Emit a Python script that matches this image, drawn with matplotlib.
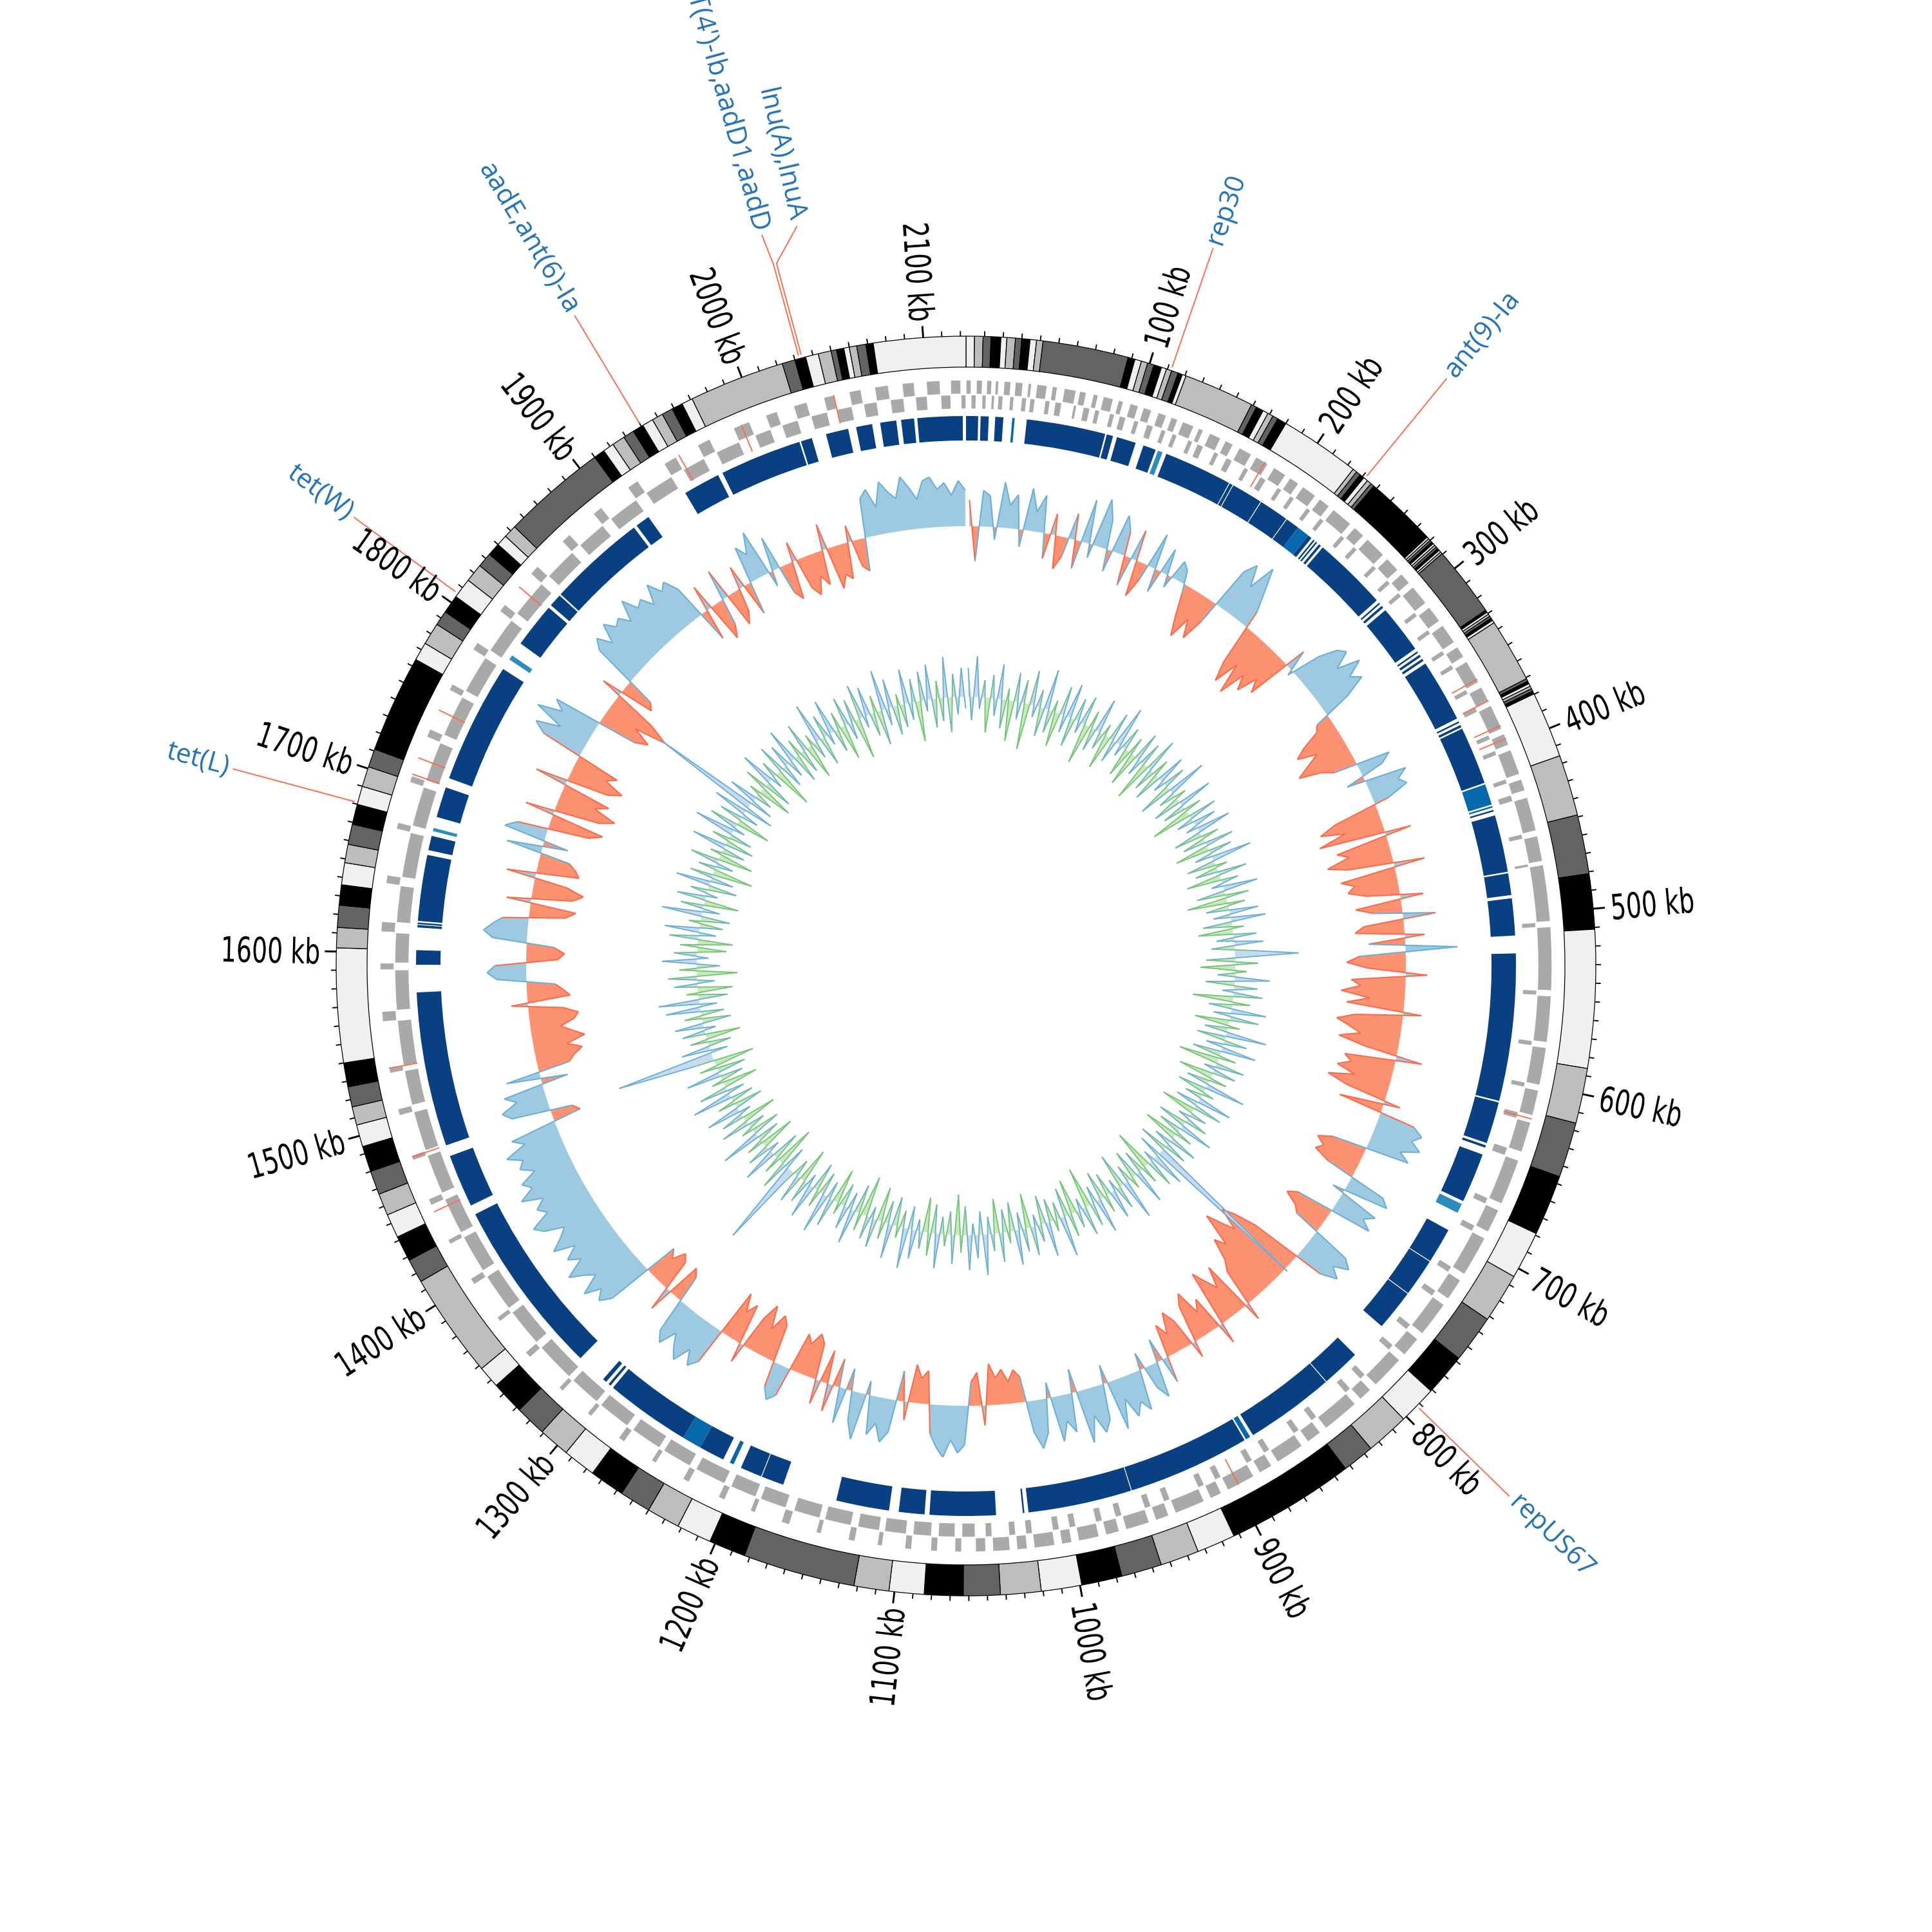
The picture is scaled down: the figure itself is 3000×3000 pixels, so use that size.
import numpy as np
import matplotlib.pyplot as plt
import matplotlib.transforms as mtransforms
from matplotlib.collections import LineCollection
from matplotlib.textpath import TextPath
from matplotlib.patches import PathPatch
from matplotlib.font_manager import FontProperties

GENOME_KB = 2123.0

# contig boundaries in kb (colours cycle light -> grey -> dark -> black)
contig_bounds = [0, 4.6, 9.2, 13.5, 18.8, 22, 26.6, 30, 34.5, 38, 41.5, 88, 91.8, 95.4, 98.9, 102.4,
                 106.7, 109.5, 112.4, 116.1, 118.5, 120.6, 159, 162, 166, 169, 172, 175, 180, 223.7,
                 226, 228.5, 231, 233.5, 236, 238, 277.6, 278.8, 280, 281.2, 282.4, 283.6, 284.8, 286,
                 287.2, 288.4, 289.6, 327.9, 329.2, 330.5, 331.8, 333.1, 334.5, 336, 370.7, 372.2,
                 373.7, 375.2, 376.7, 378.2, 379.8, 415.8, 448.9, 481, 511, 586, 616, 646, 679, 705,
                 732, 758, 781, 802, 825.6, 843, 913, 934, 955, 977, 999, 1021, 1043, 1063, 1084,
                 1103, 1122, 1183, 1203, 1222, 1240, 1257, 1276, 1294, 1311, 1328, 1346, 1358, 1415,
                 1428, 1442, 1455, 1467, 1480, 1494, 1506, 1516, 1527, 1540, 1602, 1613, 1625, 1636,
                 1648, 1658, 1669, 1680, 1690, 1701, 1711, 1764, 1774, 1786, 1794, 1804, 1815, 1825,
                 1833, 1840, 1846, 1853, 1910, 1916, 1922, 1929, 1935, 1941, 1947, 1953, 1959, 1965,
                 1971, 2023, 2030, 2036, 2043, 2050, 2053, 2057, 2060, 2064, 2069, 2073, 2123]
contig_colors = ['#f0f0f0', '#bdbdbd', '#636363', '#000000']

# CDS blocks (kb) on forward / reverse strand
fwd_genes = [(0, 3), (6, 9.5), (12, 15), (17, 19), (22, 26), (28.5, 33), (36, 38), (41, 47), (50, 53),
             (57, 64), (66, 70), (74, 77), (80, 86), (89, 92), (96, 101), (104, 109), (113, 118),
             (121, 125), (128, 135), (138, 141), (145, 152), (155, 160), (164, 172), (175, 183),
             (187, 195), (198, 204), (207, 216), (219, 226), (229, 242), (245, 252), (255, 268),
             (271, 280), (283, 290), (293, 305), (308, 318), (321, 333), (336, 343), (346, 360),
             (363, 372), (375, 390), (393, 400), (403, 418), (421, 428), (432, 452), (455, 470),
             (472, 505), (508, 545), (548, 575), (578, 600), (603, 618), (622, 640), (645, 672),
             (676, 690), (694, 718), (722, 735), (739, 760), (764, 776), (780, 800), (804, 812),
             (816, 838), (842, 851), (855, 872), (876, 884), (888, 905), (909, 916), (920, 938),
             (942, 950), (954, 968), (972, 980), (984, 996), (1000, 1006), (1010, 1022),
             (1026, 1032), (1036, 1046), (1050, 1056), (1064, 1068), (1078, 1082), (1093, 1097),
             (1110, 1113), (1126, 1130), (1146, 1149), (1165, 1170), (1186, 1189), (1205, 1209),
             (1228, 1232), (1250, 1253), (1272, 1276), (1296, 1299), (1318, 1321), (1345, 1349),
             (1372, 1375), (1398, 1402), (1425, 1428), (1450, 1454), (1478, 1481), (1505, 1509),
             (1530, 1533), (1560, 1566), (1590, 1594), (1612, 1618), (1640, 1645), (1672, 1676),
             (1700, 1704), (1728, 1733), (1758, 1762), (1785, 1790), (1812, 1817), (1840, 1846),
             (1866, 1872), (1890, 1896), (1915, 1922), (1940, 1948), (1962, 1970), (1985, 1995),
             (2005, 2012), (2022, 2030), (2040, 2046), (2055, 2062), (2070, 2078), (2086, 2093),
             (2100, 2108), (2114, 2120)]
rev_genes = [(3, 6), (9.5, 12), (15, 17), (19, 22), (26, 28.5), (33, 36), (38, 41), (47, 50), (53, 57),
             (64, 66), (70, 74), (77, 80), (86, 89), (92, 96), (101, 104), (109, 113), (118, 121),
             (125, 128), (135, 138), (141, 145), (152, 155), (160, 164), (172, 175), (183, 187),
             (195, 198), (204, 207), (216, 219), (226, 229), (242, 245), (252, 255), (268, 271),
             (280, 283), (290, 293), (305, 308), (318, 321), (333, 336), (343, 346), (360, 363),
             (372, 375), (390, 393), (400, 403), (418, 421), (428, 432), (452, 455), (470, 472),
             (505, 508), (545, 548), (575, 578), (600, 603), (618, 622), (640, 645), (672, 676),
             (690, 694), (718, 722), (735, 739), (760, 764), (776, 780), (800, 804), (812, 816),
             (838, 842), (851, 855), (872, 876), (884, 888), (905, 909), (916, 920), (938, 942),
             (950, 954), (968, 972), (980, 984), (996, 1000), (1006, 1010), (1022, 1026),
             (1032, 1036), (1046, 1050), (1056, 1064), (1068, 1078), (1082, 1093), (1097, 1110),
             (1113, 1126), (1130, 1146), (1149, 1165), (1170, 1186), (1189, 1205), (1209, 1228),
             (1232, 1250), (1253, 1272), (1276, 1296), (1299, 1318), (1321, 1345), (1349, 1372),
             (1375, 1398), (1402, 1425), (1428, 1450), (1454, 1478), (1481, 1505), (1509, 1530),
             (1533, 1560), (1566, 1590), (1594, 1612), (1618, 1640), (1645, 1672), (1676, 1700),
             (1704, 1728), (1733, 1758), (1762, 1785), (1790, 1812), (1817, 1840), (1846, 1866),
             (1872, 1890), (1896, 1915), (1922, 1940), (1948, 1962), (1970, 1985), (1995, 2005),
             (2012, 2022), (2030, 2040), (2046, 2055), (2062, 2070), (2078, 2086), (2093, 2100),
             (2108, 2114), (2120, 2123)]
rna_sites = [181, 358, 372, 388, 396, 620, 898, 1446, 1480, 1533, 1705, 1715, 1745, 1830, 1950,
             1990, 2046]

# reference alignment hits: (start kb, end kb, identity class 0=high 1=mid 2=low)
hits = [(0, 7.5, 0), (9, 14, 0), (18, 23, 0), (28.5, 30, 1), (37.5, 86.5, 0), (87.5, 91.5, 0),
        (94, 106, 0), (111, 119, 0), (120.5, 123.5, 2), (126, 168.5, 0), (169, 171, 0),
        (171.5, 191, 0), (191.5, 210, 0), (210.5, 219, 0), (219, 227, 1), (227, 229.5, 0),
        (231, 232, 0), (233, 234, 0), (235.5, 237, 0), (238.5, 285, 0), (287, 288, 0),
        (289.5, 291, 0), (293, 323, 0), (325, 326, 0), (327.5, 329, 0), (330.5, 332, 0),
        (334, 373, 0), (375, 376, 0), (377.5, 379, 0), (380, 416, 0), (417, 430, 1), (431, 432, 1),
        (433.5, 434.5, 0), (437, 472.5, 0), (473.5, 487, 0), (489, 512, 0), (523, 614.5, 0),
        (615.5, 641.5, 0), (643, 644.5, 0), (649, 680, 0), (682, 688, 2), (700, 722, 0),
        (722.5, 746, 0), (746.5, 772, 0), (796, 820, 0), (820.5, 876, 0), (878, 881, 1),
        (882, 958, 0), (958.5, 1023, 0), (1025.5, 1026.5, 0), (1043, 1084, 0), (1087, 1103, 0),
        (1109, 1142, 0), (1176, 1190, 0), (1190.5, 1204, 0), (1209, 1211.5, 1), (1216, 1232, 0),
        (1232, 1244, 1), (1244, 1297, 0), (1299, 1300.5, 0), (1302.5, 1305, 0), (1324, 1434, 0),
        (1440, 1473, 0), (1480, 1576, 0), (1593, 1602, 0), (1616, 1617.5, 0), (1618, 1619, 0),
        (1620, 1661, 0), (1664, 1673, 0), (1676, 1678, 2), (1685, 1704, 0), (1710, 1785, 0),
        (1792, 1795, 2), (1804, 1832, 0), (1834, 1842, 0), (1843, 1904, 0), (1906, 1915, 0),
        (1942, 1965, 0), (1968, 2019, 0), (2020, 2027, 0), (2036, 2050, 0), (2055, 2065, 0),
        (2070, 2080, 0), (2083, 2091, 0), (2093, 2121, 0)]
hit_colors = ['#084081', '#0868ac', '#2b8cbe']

# GC content (%) and GC skew in 5 kb windows
gc_window = 5
gc_content = [
    34.6, 30.8, 35.2, 34.9, 32.2, 35.8, 34.4, 35.1, 31.9, 35.6, 34.2, 35.3, 31.4, 34.3, 30.9, 31.8,
    34.6, 31.2, 35.7, 32.1, 36.0, 34.8, 31.6, 35.4, 34.5, 31.1, 34.9, 30.7, 32.0, 35.2, 31.5, 34.6,
    32.2, 34.2, 33.8, 32.4, 30.9, 29.8, 31.2, 30.1, 31.6, 35.6, 36.4, 35.1, 36.8, 35.4, 34.1, 30.4,
    29.2, 30.8, 28.9, 30.6, 29.7, 31.0, 30.2, 34.3, 32.6, 34.8, 35.9, 36.3, 35.2, 36.6, 35.5, 36.1,
    34.7, 32.1, 31.8, 30.6, 29.9, 31.1, 30.2, 29.4, 30.8, 31.5, 35.1, 34.4, 31.8, 35.6, 34.9, 35.3,
    33.9, 30.2, 29.1, 30.6, 28.8, 34.6, 29.7, 30.4, 28.9, 30.1, 34.9, 29.5, 30.3, 29.8, 30.9, 34.4,
    30.1, 31.2, 35.0, 30.5, 29.9, 34.2, 30.7, 36.2, 30.1, 29.3, 30.6, 34.3, 29.6, 30.2, 29.0, 30.8,
    29.4, 34.1, 30.0, 28.9, 29.7, 30.5, 29.2, 30.9, 34.6, 29.8, 30.3, 29.5, 30.7, 29.1, 30.4, 34.0,
    30.2, 35.2, 35.9, 35.4, 36.1, 35.0, 35.7, 30.8, 29.9, 30.5, 30.1, 31.2, 35.3, 35.8, 32.2, 35.5,
    34.9, 35.6, 30.6, 30.0, 30.9, 31.3, 35.4, 36.0, 35.1, 35.8, 34.8, 29.8, 28.4, 27.6, 29.0, 28.1,
    27.2, 29.3, 28.6, 30.0, 30.6, 34.1, 29.7, 31.0, 30.2, 29.4, 34.3, 30.8, 31.5, 29.9, 30.6, 34.0,
    31.2, 30.4, 31.7, 30.9, 34.6, 31.5, 35.2, 34.4, 31.9, 35.5, 34.8, 35.6, 34.3, 36.1, 31.8, 35.2,
    35.9, 34.7, 36.3, 31.5, 35.4, 34.6, 35.8, 32.0, 35.1, 36.0, 34.9, 31.4, 30.9, 31.6, 30.8, 31.3,
    30.4, 34.2, 30.9, 31.5, 35.4, 35.9, 35.1, 36.2, 35.6, 34.8, 30.9, 31.4, 30.6, 34.1, 31.1, 35.0,
    35.7, 34.6, 35.4, 32.1, 35.9, 34.8, 31.6, 35.2, 31.2, 34.7, 30.9, 34.5, 30.7, 30.2, 31.0, 30.5,
    34.8, 35.3, 34.6, 30.6, 30.1, 31.2, 29.8, 30.9, 34.2, 30.4, 31.1, 30.0, 35.3, 35.9, 35.0, 36.1,
    35.5, 34.7, 35.8, 35.2, 31.3, 30.8, 34.5, 31.0, 30.6, 31.4, 30.9, 35.8, 36.5, 35.9, 36.9, 35.6,
    36.2, 37.0, 35.7, 36.4, 35.5, 36.8, 36.0, 35.4, 36.6, 37.1, 35.8, 36.3, 35.6, 36.9, 35.9, 36.4,
    35.3, 36.1, 35.7, 36.6, 35.2, 35.9, 31.2, 31.6, 35.4, 35.9, 34.8, 35.5, 31.3, 35.1, 31.0, 30.6,
    30.0, 30.9, 29.7, 30.4, 31.1, 30.2, 29.9, 30.8, 34.0, 30.3, 30.7, 31.2, 34.8, 35.4, 34.9, 31.0,
    30.6, 31.3, 35.1, 35.7, 35.2, 34.6, 30.7, 30.1, 34.5, 30.4, 29.8, 30.9, 34.8, 30.3, 30.6, 31.1,
    35.2, 31.4, 35.6, 34.9, 30.4, 29.6, 34.8, 30.1, 29.2, 30.7, 29.9, 35.0, 30.3, 29.5, 30.8, 30.2,
    35.6, 36.4, 34.9, 36.8, 35.3, 36.0, 30.5, 29.7, 30.9, 28.9, 30.2, 34.3, 30.8, 31.2, 35.7, 36.3,
    35.4, 36.6, 35.9, 36.2, 35.5, 36.8, 35.8, 36.1, 35.3, 36.5, 35.6, 36.0, 35.1, 31.0, 34.6, 30.5,
    31.3, 34.9, 30.8, 31.5, 34.4, 30.9, 35.3, 34.6, 35.9, 32.0, 35.1, 31.2, 30.6, 34.2, 31.0, 30.4,
    31.5, 30.8, 34.6, 30.3, 31.1, 30.7, 34.0, 31.3, 30.9, 35.4, 35.9, 34.7, 36.2, 35.5, 35.0, 36.3,
    35.6, 34.8, 35.9, 36.1, 35.3, 35.7, 34.9, 35.8, 35.2]
gc_skew = [
    0.05, -0.04, 0.07, -0.02, 0.03, -0.06, 0.04, -0.03, 0.06, -0.05, 0.02, -0.07, 0.05, -0.03, 0.04,
    -0.08, 0.06, -0.02, 0.03, -0.05, 0.07, -0.04, 0.02, -0.06, 0.05,
    -0.03, 0.06, -0.05, 0.04, -0.02, 0.05, -0.07, 0.03, -0.04, 0.06, -0.03, 0.02, -0.06, 0.05, -0.04,
    0.07, -0.02, 0.04, -0.05, 0.03, -0.06, 0.05, -0.03, 0.04, -0.07,
    0.06, -0.04, 0.03, -0.05, 0.05, -0.02, 0.04, -0.06, 0.07, -0.03, 0.02, -0.05, 0.06, -0.04, 0.03,
    -0.07, 0.05, -0.03, 0.04, -0.02, 0.06, -0.05, 0.03, -0.04, 0.05,
    -0.06, 0.04, -0.03, 0.07, -0.05, 0.02, -0.04, 0.05, -0.06, 0.03, -0.02, 0.06, -0.05, 0.04, -0.07,
    0.03, -0.04, 0.05, -0.03, 0.06, -0.05, 0.02, -0.06, 0.04, -0.03,
    0.05, -0.04, 0.03, 0.11, -0.05, 0.04, -0.06, 0.02, -0.03, 0.06, -0.05, 0.04, -0.02, 0.05, -0.07,
    0.03, -0.04, 0.06, -0.03, 0.05, -0.06, 0.02, -0.04, 0.07, -0.05,
    0.04, -0.03, 0.06, -0.05, 0.03, -0.07, 0.05, -0.02, 0.04, -0.06, 0.03, -0.04, 0.07, -0.05, 0.02,
    -0.03, 0.06, -0.04, 0.05, -0.06, 0.03, -0.02, 0.04, -0.05, 0.06,
    -0.04, 0.03, -0.06, 0.05, -0.03, 0.04, -0.05, 0.30, -0.04, 0.06, -0.02, 0.05, -0.07, 0.03, -0.04,
    0.06, -0.05, 0.02, -0.03, 0.07, -0.06, 0.04, -0.02, 0.05, -0.04,
    0.03, -0.05, 0.06, -0.03, 0.04, -0.07, 0.05, -0.02, 0.03, -0.06, 0.04, -0.05, 0.07, -0.03, 0.02,
    -0.04, 0.06, -0.05, 0.03, -0.02, 0.05, -0.06, 0.04, -0.03, 0.06,
    -0.05, 0.02, -0.04, 0.05, -0.06, 0.03, -0.03, 0.07, -0.04, 0.04, -0.02, 0.06, -0.05, 0.03, -0.07,
    0.05, -0.04, 0.02, -0.03, 0.06, -0.05, 0.04, -0.06, 0.03, -0.02,
    0.05, -0.04, 0.07, -0.03, 0.02, -0.05, 0.06, -0.04, 0.03, -0.06, 0.05, -0.02, 0.04, -0.07, 0.03,
    -0.05, 0.06, -0.03, 0.04, -0.04, 0.02, -0.06, 0.05, -0.03, 0.07,
    -0.04, 0.03, -0.05, 0.06, -0.02, 0.04, -0.06, 0.05, -0.03, 0.02, 0.15, -0.04, 0.05, -0.07, 0.03,
    -0.05, 0.06, -0.02, 0.04, -0.06, 0.03, -0.04, 0.07, -0.05, 0.02,
    -0.03, 0.05, -0.06, 0.04, -0.02, 0.06, -0.05, 0.03, -0.04, 0.07, -0.03, 0.05, -0.06, 0.02, -0.04,
    0.06, -0.05, 0.03, -0.07, 0.04, 0.17, -0.03, 0.05, -0.04, 0.03,
    -0.06, 0.04, -0.02, 0.05, -0.05, 0.03, -0.04, 0.06, -0.03, 0.07, -0.05, 0.02, -0.06, 0.04, -0.03,
    0.05, -0.07, 0.03, -0.04, 0.06, -0.02, 0.04, -0.05, 0.03, -0.06,
    0.05, -0.03, 0.06, -0.04, 0.02, -0.05, 0.07, -0.03, 0.04, -0.06, 0.05, -0.02, 0.03, -0.05, 0.06,
    -0.04, 0.04, -0.07, 0.03, -0.03, 0.05, -0.06, 0.02, -0.04, 0.06,
    -0.05, 0.03, -0.04, 0.07, -0.02, 0.05, -0.06, 0.04, -0.03, 0.06, -0.05, 0.19, -0.04, 0.05, -0.03,
    0.02, -0.06, 0.04, -0.05, 0.06, -0.02, 0.03, -0.07, 0.05, -0.04,
    0.04, -0.03, 0.06, -0.05, 0.03, -0.04, 0.05, -0.06, 0.02, -0.03, 0.07, -0.05, 0.04, -0.02, 0.06,
    -0.04, 0.03, -0.06, 0.05, -0.03, 0.04, -0.07, 0.06, -0.02, 0.05,
    -0.04, 0.03, -0.06, 0.07, -0.03, 0.05, -0.05, 0.02, -0.04, 0.06, -0.03, 0.04, -0.07, 0.05, -0.02,
    0.06, -0.05, 0.03, -0.04, 0.07, -0.06, 0.04, -0.03, 0.05, -0.02]

# resistance genes / replicons: name, feature position (kb), label position (kb)
amr_names = ['rep30', 'ant(9)-Ia', 'repUS67', 'tet(L)', 'tet(W)', 'aadE,ant(6)-Ia',
             "ANT(4')-Ib,aadD1,aadD", 'lnu(A),lnuA']
amr_pos = [112, 231.7, 792, 1681, 1806, 1940, 2032.5, 2034]
amr_label_pos = [112, 231.7, 792, 1681, 1806, 1940, 2031, 2047]


def th(kb):
    return np.asarray(kb, dtype=float) / GENOME_KB * 2 * np.pi


fig = plt.figure(figsize=(10, 10), dpi=300, facecolor='white')
ax = fig.add_axes([0, 0, 1, 1], projection='polar')
ax.set_theta_zero_location('N')
ax.set_theta_direction(-1)
ax.set_rlim(0, 1500)
ax.set_axis_off()


def orient(kb):
    deg = kb / GENOME_KB * 360
    if deg < 180:
        return 90 - deg, False
    return 270 - deg, True


def radial_text(kb, r, s, **kw):
    rot, flip = orient(kb)
    ax.text(th(kb), r, s, rotation=rot, ha='right' if flip else 'left', va='center',
            rotation_mode='anchor', **kw)


tick_font = FontProperties(family='DejaVu Sans')


def narrow_text(kb, r, s, size, squeeze):
    # condensed tick label drawn as a squeezed text path
    rot, flip = orient(kb)
    tp = TextPath((0, 0), s, size=size, prop=tick_font)
    w = tp.get_extents().x1 * squeeze
    x, y = ax.transData.transform((th(kb), r))
    tr = (mtransforms.Affine2D().scale(squeeze, 1)
          .translate(-w if flip else 0, -size * 0.36)
          .scale(fig.dpi / 72).rotate_deg(rot).translate(x, y))
    fig.add_artist(PathPatch(tp, transform=tr, facecolor='black', lw=0))


# contig ring
cb = np.array(contig_bounds)
cols = [contig_colors[i % 4] for i in range(len(cb) - 1)]
ax.bar(th(cb[:-1]), 48, width=th(np.diff(cb)), bottom=930, align='edge',
       color=cols, edgecolor='black', linewidth=0.3)

# ticks
major = np.arange(100, 2101, 100)
minor = np.array([k for k in range(10, int(GENOME_KB), 10) if k % 100])
ax.vlines(th(minor), 978, 986, color='black', lw=0.45)
ax.vlines(th(major), 978, 996, color='black', lw=0.7)
for k in major:
    narrow_text(k, 1005, f'{k} kb', 13, 0.70)

# genes
for genes, r0 in ((fwd_genes, 888), (rev_genes, 865)):
    g = np.array(genes, dtype=float)
    ax.bar(th(g[:, 0]), 22, width=th(g[:, 1] - g[:, 0]), bottom=r0, align='edge',
           color='#a9a9a9', edgecolor='white', linewidth=0.35)
ax.bar(th(rna_sites), 45, width=th(0.7), bottom=865, align='center', color='#fb6a4a', linewidth=0)

# alignment hits
h = np.array(hits, dtype=float)
ax.bar(th(h[:, 0]), 38, width=th(h[:, 1] - h[:, 0]), bottom=816, align='edge',
       color=[hit_colors[int(c)] for c in h[:, 2]], linewidth=0)


def signed_track(values, base, scale, pos_fill, pos_line, neg_fill, neg_line, lw):
    v = np.asarray(values, dtype=float)
    t = th((np.arange(len(v)) + 0.5) * gc_window)
    r = base + v * scale
    ax.fill_between(t, base, r, where=r >= base, interpolate=True, color=pos_fill, lw=0)
    ax.fill_between(t, base, r, where=r < base, interpolate=True, color=neg_fill, lw=0)
    pts = np.column_stack([t, r])
    segs = np.stack([pts[:-1], pts[1:]], axis=1)
    mid = (r[:-1] + r[1:]) / 2
    ax.add_collection(LineCollection(segs, colors=np.where(mid >= base, pos_line, neg_line),
                                     linewidths=lw))


gc = np.array(gc_content)
signed_track(gc - gc.mean(), 683, 25, '#9ecae1', '#6baed6', '#fc9272', '#fb6a4a', 0.5)
signed_track(gc_skew, 418, 900, '#c6dbef', '#6baed6', '#c7e9c0', '#74c476', 0.45)

# annotation labels
for name, p, lp in zip(amr_names, amr_pos, amr_label_pos):
    ax.plot(th([p, p, lp]), [984, 1130, 1178], color='#fb6a4a', lw=0.45)
    radial_text(lp, 1186, name, fontsize=10, family=['Open Sans', 'DejaVu Sans'], color='#2171b5')

ax.set_rlim(0, 1500)
fig.savefig('out.png', dpi=300, facecolor='white')
